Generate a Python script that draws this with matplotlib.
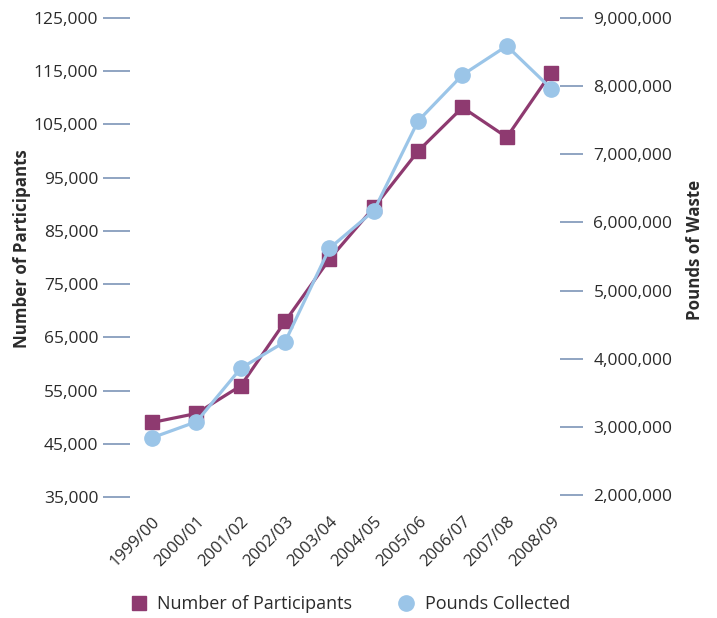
import matplotlib
matplotlib.use('Agg')
import matplotlib.pyplot as plt
from matplotlib.lines import Line2D
from matplotlib.ticker import FuncFormatter

years = ['1999/00', '2000/01', '2001/02', '2002/03', '2003/04',
         '2004/05', '2005/06', '2006/07', '2007/08', '2008/09']
participants = [49000, 50700, 55900, 68000, 79700,
                89400, 100000, 108200, 102600, 114700]
pounds = [2840000, 3075000, 3860000, 4250000, 5620000,
          6170000, 7490000, 8165000, 8590000, 7965000]

left_ticks = [35000, 45000, 55000, 65000, 75000, 85000, 95000, 105000, 115000, 125000]
right_ticks = [2000000, 3000000, 4000000, 5000000, 6000000, 7000000, 8000000, 9000000]

purple = '#8e3a70'
blue = '#9bc5e8'
tickc = '#7d95b8'
txt = '#2b2b2b'

plt.rcParams['font.family'] = ['Open Sans', 'DejaVu Sans']
plt.rcParams['text.color'] = txt

fig = plt.figure(figsize=(7.17, 6.18), dpi=100)
W, H = 717, 618
ax = fig.add_axes([130 / W, 1 - 497 / H, (560 - 130) / W, (497 - 18) / H])
ax2 = ax.twinx()

x = list(range(len(years)))
ax.plot(x, participants, color=purple, lw=2.3, marker='s', ms=10.5, zorder=3)
ax2.plot(x, pounds, color=blue, lw=2.3, marker='o', ms=11, zorder=3)

ax.set_xlim(-0.5, 9.2)
ax.set_ylim(35000, 125000)
ax2.set_ylim(1970000, 9000000)

ax.set_yticks(left_ticks)
ax2.set_yticks(right_ticks)
comma = FuncFormatter(lambda v, p: '{:,.0f}'.format(v))
ax.yaxis.set_major_formatter(comma)
ax2.yaxis.set_major_formatter(comma)

ax.set_xticks(x)
ax.set_xticklabels(years, rotation=45, ha='right', va='top', rotation_mode='anchor')

for a in (ax, ax2):
    for s in a.spines.values():
        s.set_visible(False)
    a.patch.set_visible(False)

ax.tick_params(axis='x', length=0, pad=12, labelsize=12, labelcolor=txt)
ax.tick_params(axis='y', length=19.4, width=1.2, color=tickc, pad=3.5,
               labelsize=12.5, labelcolor=txt)
ax2.tick_params(axis='y', length=16.6, width=1.2, color=tickc, pad=7.5,
                labelsize=12.5, labelcolor=txt)

fig.text(22 / W, 1 - 249 / H, 'Number of Participants', rotation=90,
         ha='center', va='center', fontsize=12.2, fontweight='bold', color=txt)
fig.text(695 / W, 1 - 250 / H, 'Pounds of Waste', rotation=90,
         ha='center', va='center', fontsize=12.2, fontweight='bold', color=txt)

handles = [Line2D([], [], ls='none', marker='s', ms=10, color=purple),
           Line2D([], [], ls='none', marker='o', ms=11, color=blue)]
fig.legend(handles, ['Number of Participants', 'Pounds Collected'],
           loc='center', bbox_to_anchor=(350 / W, 1 - 604 / H), ncol=2,
           frameon=False, fontsize=13, handletextpad=0.5, columnspacing=2.5,
           handlelength=1.0)

fig.savefig('out.png', dpi=100)
